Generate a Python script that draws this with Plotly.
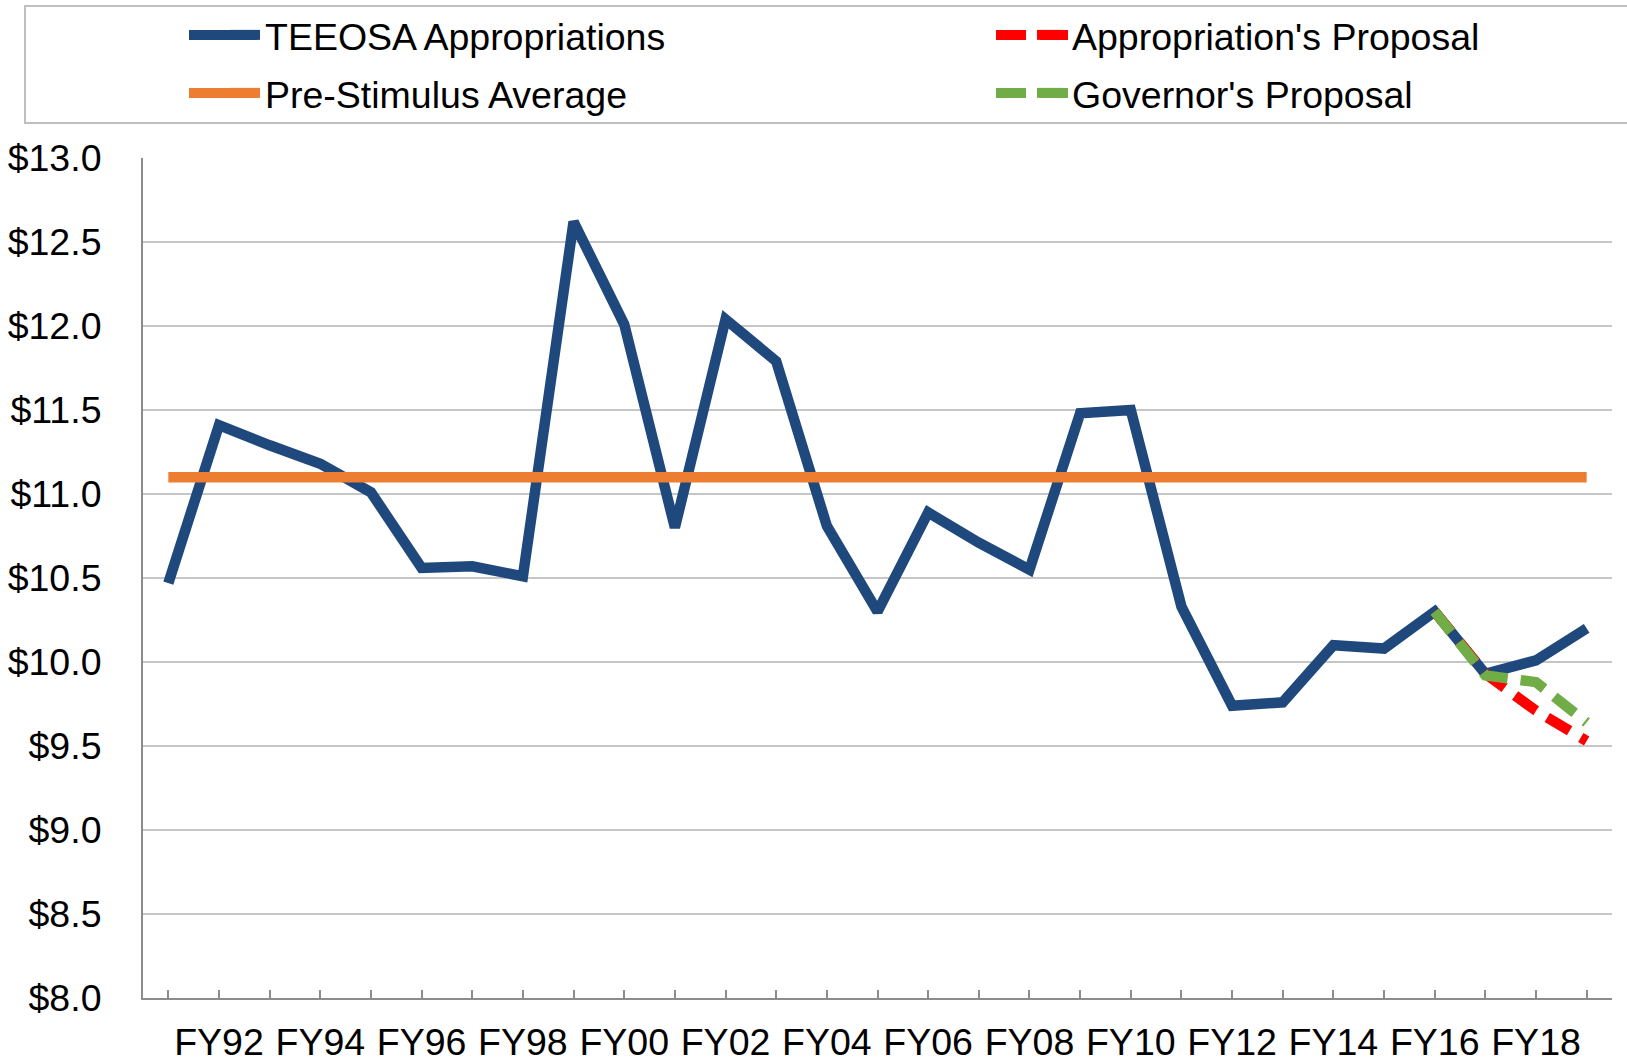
import plotly.graph_objects as go

categories = ["FY91", "FY92", "FY93", "FY94", "FY95", "FY96", "FY97", "FY98", "FY99", "FY00",
              "FY01", "FY02", "FY03", "FY04", "FY05", "FY06", "FY07", "FY08", "FY09", "FY10",
              "FY11", "FY12", "FY13", "FY14", "FY15", "FY16", "FY17", "FY18", "FY19"]
tick_labels = ["", "FY92", "", "FY94", "", "FY96", "", "FY98", "", "FY00",
               "", "FY02", "", "FY04", "", "FY06", "", "FY08", "", "FY10",
               "", "FY12", "", "FY14", "", "FY16", "", "FY18", ""]

teeosa = [10.47, 11.41, 11.29, 11.18, 11.01, 10.56, 10.57, 10.51, 12.62, 12.01,
          10.80, 12.04, 11.79, 10.81, 10.30, 10.89, 10.71, 10.55, 11.48, 11.50,
          10.33, 9.74, 9.76, 10.10, 10.08, 10.30, 9.93, 10.01, 10.20]
pre_stimulus = [11.10, 11.10, 11.10, 11.10, 11.10, 11.10, 11.10, 11.10, 11.10, 11.10,
                11.10, 11.10, 11.10, 11.10, 11.10, 11.10, 11.10, 11.10, 11.10, 11.10,
                11.10, 11.10, 11.10, 11.10, 11.10, 11.10, 11.10, 11.10, 11.10]
approp_proposal = [None, None, None, None, None, None, None, None, None, None,
                   None, None, None, None, None, None, None, None, None, None,
                   None, None, None, None, None, 10.30, 9.93, 9.71, 9.53]
governor_proposal = [None, None, None, None, None, None, None, None, None, None,
                     None, None, None, None, None, None, None, None, None, None,
                     None, None, None, None, None, 10.30, 9.92, 9.88, 9.64]

FONT = "Liberation Sans, Arial, sans-serif"
FS = 37.5
BLUE = "#1F497D"
ORANGE = "#ED7D31"
RED = "#FF0000"
GREEN = "#70AD47"
LW = 10.5

fig = go.Figure()
fig.add_trace(go.Scatter(x=categories, y=teeosa, mode="lines", name="TEEOSA Appropriations",
                         line=dict(color=BLUE, width=LW), legend="legend"))
fig.add_trace(go.Scatter(x=categories, y=pre_stimulus, mode="lines", name="Pre-Stimulus Average",
                         line=dict(color=ORANGE, width=LW), legend="legend2"))
fig.add_trace(go.Scatter(x=categories, y=approp_proposal, mode="lines", name="Appropriation's Proposal",
                         line=dict(color=RED, width=LW, dash="26px,13px"), legend="legend3"))
fig.add_trace(go.Scatter(x=categories, y=governor_proposal, mode="lines", name="Governor's Proposal",
                         line=dict(color=GREEN, width=LW, dash="26px,13px"), legend="legend4"))

W, H = 1627, 1062
L, R, T, B = 143, 15, 158, 64
pw, ph = W - L - R, H - T - B

def px_x(p):
    return (p - L) / pw

def px_y(p):
    return 1 + (T - p) / ph

def leg(xp, yp):
    return dict(orientation="h", xanchor="left", yanchor="middle",
                x=px_x(xp), y=px_y(yp),
                font=dict(family=FONT, size=FS, color="#000000"),
                bgcolor="rgba(0,0,0,0)", borderwidth=0)

def key_line(x0, x1, yp, color):
    return dict(type="line", xref="paper", yref="paper", layer="above",
                x0=px_x(x0), x1=px_x(x1), y0=px_y(yp), y1=px_y(yp),
                line=dict(color=color, width=10))

shapes = [dict(type="rect", xref="paper", yref="paper",
               x0=px_x(25), x1=px_x(1640), y0=px_y(123), y1=px_y(6),
               line=dict(color="#BFBFBF", width=2), fillcolor="rgba(0,0,0,0)", layer="below"),
          # longer legend keys, as in the original
          key_line(189, 257, 35, BLUE),
          key_line(189, 257, 93, ORANGE),
          key_line(996, 1026, 35, RED), key_line(1040, 1068, 35, RED),
          key_line(996, 1026, 93, GREEN), key_line(1040, 1068, 93, GREEN)]

fig.update_layout(
    width=W, height=H,
    margin=dict(l=L, r=R, t=T, b=B, autoexpand=False),
    paper_bgcolor="white", plot_bgcolor="white",
    font=dict(family=FONT, size=FS, color="#000000"),
    showlegend=True,
    legend=leg(225, 35),
    legend2=leg(225, 93),
    legend3=leg(1032, 35),
    legend4=leg(1032, 93),
    shapes=shapes,
    xaxis=dict(type="category", range=[-0.5, 28.5],
               tickmode="array", tickvals=categories, ticktext=tick_labels,
               ticks="inside", ticklen=8, tickwidth=2, tickcolor="#8C8C8C",
               showline=True, linecolor="#8C8C8C", linewidth=2,
               showgrid=False, zeroline=False, ticklabelstandoff=10,
               tickfont=dict(family=FONT, size=FS, color="#000000"), tickangle=0),
    yaxis=dict(range=[8, 13], dtick=0.5, tick0=8, tickformat="$.1f",
               showline=True, linecolor="#8C8C8C", linewidth=2,
               showgrid=True, gridcolor="#C6C6C6", gridwidth=2,
               zeroline=False, ticks="", ticklabelstandoff=32,
               tickfont=dict(family=FONT, size=FS, color="#000000")),
)

fig.write_html("out.html", config={"displayModeBar": False},
               post_script="document.body.style.margin='0';document.body.style.overflow='hidden';")
